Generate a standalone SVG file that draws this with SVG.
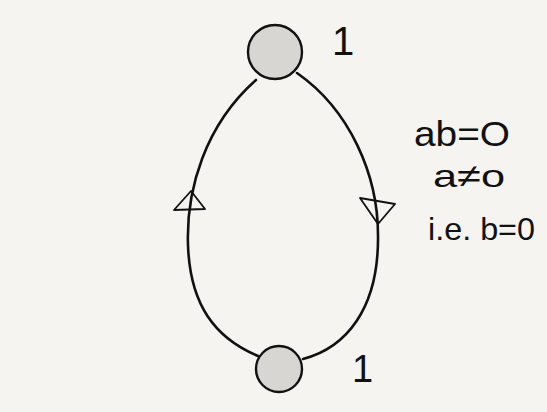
<svg xmlns="http://www.w3.org/2000/svg" width="547" height="412" viewBox="0 0 547 412">
<style>
.edge{fill:none;stroke:#111;stroke-width:2.6;stroke-linecap:round}
.arrow{fill:none;stroke:#111;stroke-width:1.8;stroke-linejoin:round}
.node{fill:#d7d6d3;stroke:#111;stroke-width:2.4}
.lbl{font-family:"Liberation Sans",Arial,sans-serif;fill:#111}
</style>
<rect x="0" y="0" width="547" height="412" fill="#f5f4f1"/>
<g id="connectors">
<path class="edge" d="M256,80 C205,125 186,190 188,245 C190,305 215,338 258,356"/>
<path class="edge" d="M297,73 C350,110 378,175 378,235 C379,310 345,348 303,359"/>
<path class="arrow" d="M191,191 L205,209 L174,210 Z"/>
<path class="arrow" d="M360,198 L395,204 L378,224 Z"/>
</g>
<g id="node-top">
<circle class="node" cx="275" cy="52" r="27"/>
<text class="lbl" x="332" y="55" font-size="40">1</text>
</g>
<g id="node-bottom">
<circle class="node" cx="279" cy="369" r="23"/>
<text class="lbl" x="352" y="382" font-size="38">1</text>
</g>
<g id="note">
<text class="lbl" x="414" y="146" font-size="35" textLength="96" lengthAdjust="spacingAndGlyphs">ab=O</text>
<text class="lbl" x="433" y="187" font-size="32" textLength="72" lengthAdjust="spacingAndGlyphs">a≠o</text>
<text class="lbl" x="428" y="240" font-size="32" textLength="107" lengthAdjust="spacingAndGlyphs">i.e. b=0</text>
</g>
</svg>
